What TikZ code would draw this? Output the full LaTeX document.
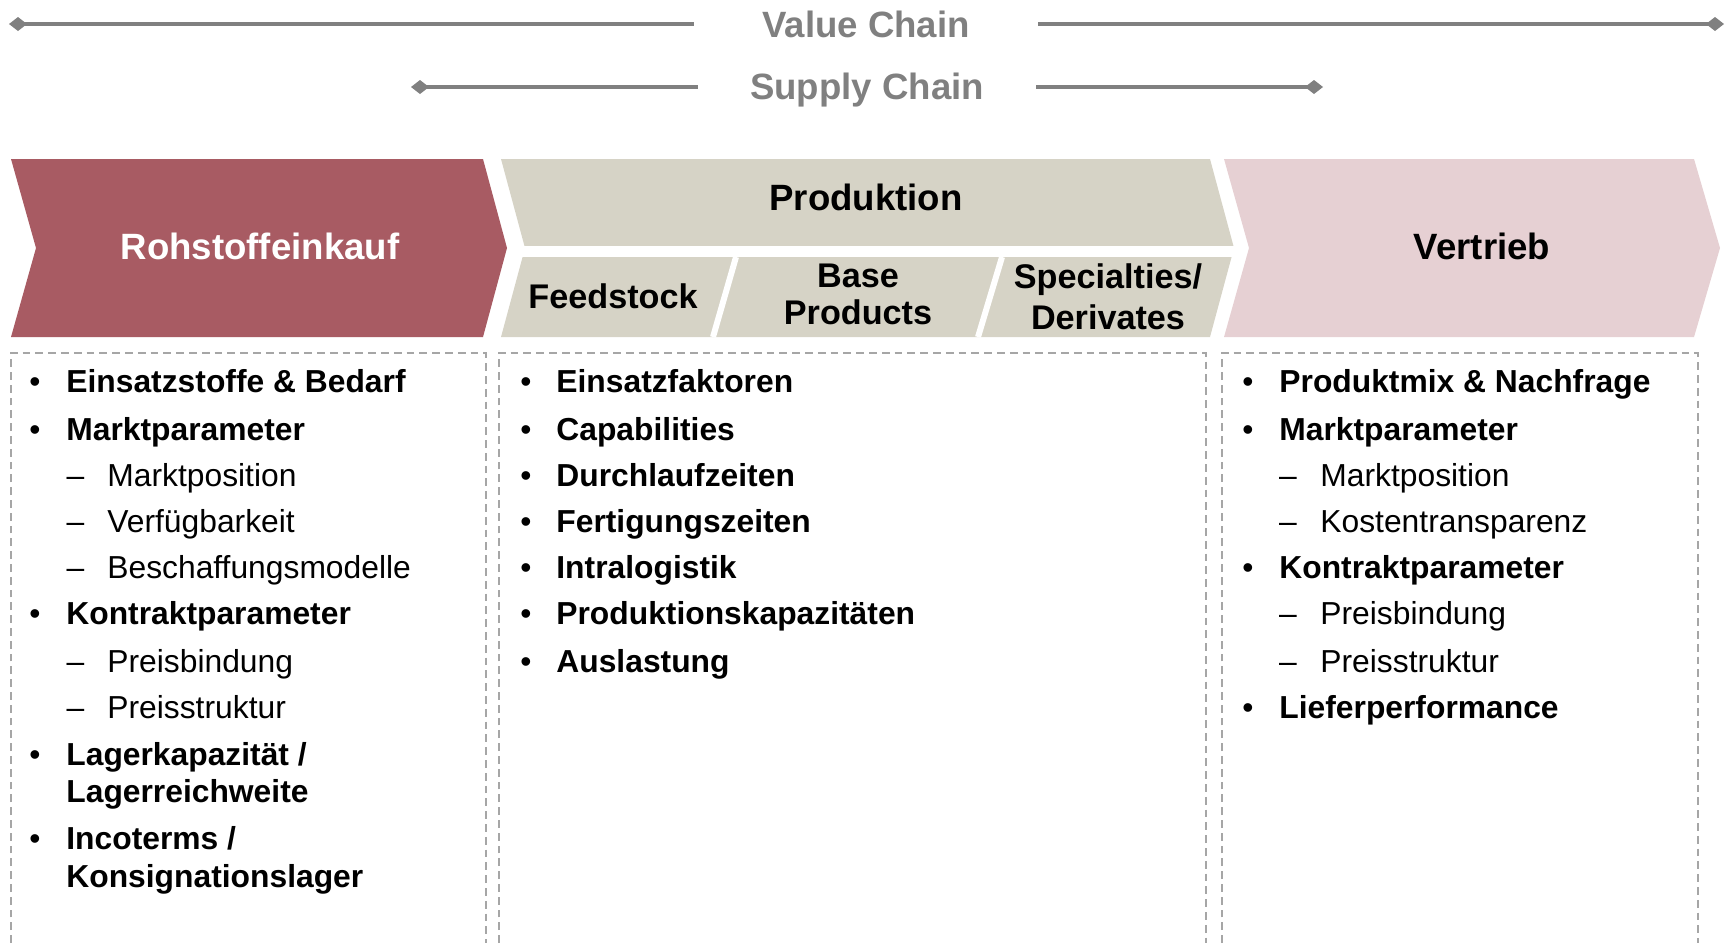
\documentclass[tikz,border=0pt]{standalone}
\usepackage{fontspec}
\setmainfont{Liberation Sans}
\usetikzlibrary{arrows.meta}
\definecolor{CRed}{HTML}{A85B63}
\definecolor{CSand}{HTML}{D6D3C6}
\definecolor{CRose}{HTML}{E6D0D3}
\definecolor{CGray}{HTML}{808080}
\definecolor{CGrayDash}{HTML}{A6A6A6}

\begin{document}
\begin{tikzpicture}[x=0.5pt, y=-0.5pt,
    chain/.style={draw=CGray, line width=2.2pt, -{Diamond[length=9pt, width=7pt]}},
    chainlabel/.style={anchor=base, text=CGray, inner ysep=0pt, font=\bfseries\fontsize{18.3}{21}\selectfont},
    phase/.style={inner sep=0pt, font=\bfseries\fontsize{18.3}{21}\selectfont},
    subphase/.style={inner sep=0pt, align=center, font=\bfseries\fontsize{17.1}{18.5}\selectfont},
    divider/.style={draw=white, line width=3pt},
    listbox/.style={draw=CGrayDash, line width=0.75pt, dash pattern=on 3.9pt off 2.5pt},
    bul/.style={anchor=base, inner sep=0pt, font=\fontsize{15.9}{18.8}\selectfont},
    item/.style={anchor=base west, inner sep=0pt, font=\bfseries\fontsize{15.9}{18.8}\selectfont},
    subitem/.style={anchor=base west, inner sep=0pt, font=\fontsize{15.9}{18.8}\selectfont}
]
  \useasboundingbox (0,0) rectangle (1733,943);

  \node[chainlabel, inner xsep=34pt] (vc) at (866,37) {Value Chain};
  \node[chainlabel, inner xsep=26pt] (sc) at (867,99) {Supply Chain};
  \coordinate (vcL) at (9,24);
  \coordinate (vcR) at (1724,24);
  \coordinate (scL) at (411,87);
  \coordinate (scR) at (1323,87);
  \draw[chain] (vc.west |- vcL) -- (vcL);
  \draw[chain] (vc.east |- vcR) -- (vcR);
  \draw[chain] (sc.west |- scL) -- (scL);
  \draw[chain] (sc.east |- scR) -- (scR);

  \fill[CRed] (11,159) -- (483,159) -- (507,248) -- (483,337) -- (11,337) -- (36,248) -- cycle;
  \fill[CSand] (501,159) -- (1210,159) -- (1234,248) -- (1210,337) -- (501,337) -- (525,248) -- cycle;
  \fill[white] (509,246) rectangle (1240,257);
  \draw[divider] (736,257) -- (713,337);
  \draw[divider] (1002,257) -- (978,337);
  \fill[CRose] (1224,159) -- (1694,159) -- (1720,248) -- (1694,337) -- (1224,337) -- (1249,248) -- cycle;

  \node[phase, text=white] (rohstoff) at (260,246) {Rohstoffeinkauf};
  \node[phase] (produktion) at (866,197) {Produktion};
  \node[phase] (vertrieb) at (1482,246) {Vertrieb};
  \node[subphase] (feedstock) at (613,296) {Feedstock};
  \node[subphase] (base) at (858,294) {Base\\Products};
  \node[subphase, font=\bfseries\fontsize{17.1}{20.5}\selectfont] (special) at (1108,297) {Specialties/\\Derivates};

  \draw[listbox] (11,943) |- (486,353) -- (486,943);
  \draw[listbox] (499,943) |- (1206,353) -- (1206,943);
  \draw[listbox] (1222,943) |- (1698,353) -- (1698,943);

  \foreach \y/\t [count=\i] in {392/{Einsatzstoffe \& Bedarf}, 440/Marktparameter, 624/Kontraktparameter, 765/{Lagerkapazität /}, 849/{Incoterms /}} {
    \node[bul] (rb\i) at (35,\y) {•};
    \node[item] (ri\i) at (66,\y) {\t};
  }
  \foreach \y/\t [count=\i] in {802/Lagerreichweite, 887/Konsignationslager}
    \node[item] (rc\i) at (66,\y) {\t};
  \foreach \y/\t [count=\i] in {486/Marktposition, 532/Verfügbarkeit, 578/Beschaffungsmodelle, 672/Preisbindung, 718/Preisstruktur} {
    \node[bul] (rd\i) at (75.5,\y) {–};
    \node[subitem] (rs\i) at (107,\y) {\t};
  }

  \foreach \y/\t [count=\i] in {392/Einsatzfaktoren, 440/Capabilities, 486/Durchlaufzeiten, 532/Fertigungszeiten, 578/Intralogistik, 624/Produktionskapazitäten, 672/Auslastung} {
    \node[bul] (pb\i) at (526,\y) {•};
    \node[item] (pi\i) at (556,\y) {\t};
  }

  \foreach \y/\t [count=\i] in {392/{Produktmix \& Nachfrage}, 440/Marktparameter, 578/Kontraktparameter, 718/Lieferperformance} {
    \node[bul] (vb\i) at (1248,\y) {•};
    \node[item] (vi\i) at (1279,\y) {\t};
  }
  \foreach \y/\t [count=\i] in {486/Marktposition, 532/Kostentransparenz, 624/Preisbindung, 672/Preisstruktur} {
    \node[bul] (vd\i) at (1288,\y) {–};
    \node[subitem] (vs\i) at (1320,\y) {\t};
  }
\end{tikzpicture}
\end{document}
